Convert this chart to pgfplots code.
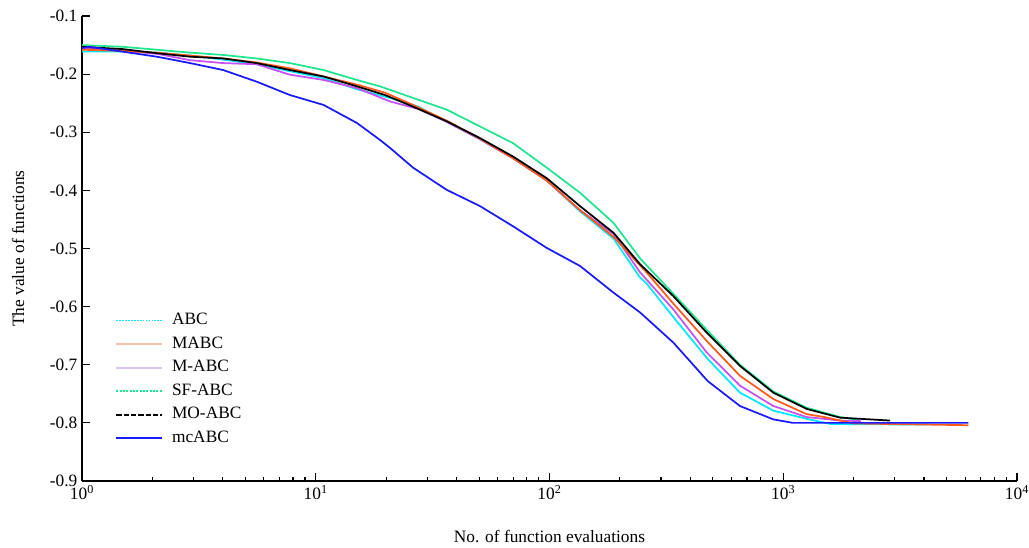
\documentclass[border=0pt]{standalone}
\usepackage{fontspec}
\setmainfont{Liberation Serif}
\usepackage{pgfplots}
\pgfplotsset{compat=1.18}

\definecolor{abccyan}{HTML}{00E8FF}
\definecolor{mabcorange}{HTML}{FF5A1A}
\definecolor{mabcpale}{HTML}{F5C2AA}
\definecolor{mviolet}{HTML}{C850F0}
\definecolor{mvioletpale}{HTML}{DCC4F2}
\definecolor{sfgreen}{HTML}{1EE690}
\definecolor{mcblue}{HTML}{1A1AFF}

\newcommand{\lblfont}{\fontsize{13}{15}\selectfont}

\begin{document}
\begin{tikzpicture}
\path[use as bounding box] (-61.5pt,-49.5pt) rectangle (710.25pt,360.75pt);
\begin{semilogxaxis}[
    at={(0,0)}, anchor=south west,
    scale only axis,
    width=701.25pt, height=348.75pt,
    xmin=1, xmax=10000,
    ymin=-0.9, ymax=-0.1,
    axis x line*=bottom,
    axis y line*=left,
    axis line style={black, line width=1.2pt, -},
    tick align=inside,
    major tick length=6pt,
    minor tick length=3pt,
    tick style={black, line width=0.9pt},
    xtick={1,10,100,1000,10000},
    xticklabels={{10\textsuperscript{0}},{10\textsuperscript{1}},{10\textsuperscript{2}},{10\textsuperscript{3}},{10\textsuperscript{4}}},
    minor xtick={2,3,4,5,6,7,8,9,20,30,40,50,60,70,80,90,200,300,400,500,600,700,800,900,2000,3000,4000,5000,6000,7000,8000,9000},
    ytick={-0.9,-0.8,-0.7,-0.6,-0.5,-0.4,-0.3,-0.2,-0.1},
    yticklabels={-0.9,-0.8,-0.7,-0.6,-0.5,-0.4,-0.3,-0.2,-0.1},
    ticklabel style={font=\lblfont},
    xlabel={No. of function evaluations},
    ylabel={The value of functions},
    label style={font=\lblfont},
    xlabel style={at={(axis description cs:0.5,-0.1204)}, anchor=center},
    ylabel style={at={(axis description cs:-0.0684,0.5)}, anchor=center},
    legend style={at={(axis description cs:0.0353,0.363)}, anchor=north west,
        draw=none, fill=none, inner sep=0pt, font=\lblfont,
        row sep=5.7pt,
        nodes={inner sep=0pt, text height=9pt, text depth=3pt},
        /tikz/every odd column/.append style={column sep=7pt}},
    legend cell align=left,
    legend image code/.code={\draw[#1] (0pt,0pt) -- (34pt,0pt);},
    every axis plot/.append style={line width=1.3pt},
]

% SF-ABC
\addplot[sfgreen, forget plot] coordinates {
(1,-0.150) (1.5,-0.153) (2.09,-0.158) (2.9,-0.163) (4.02,-0.167) (5.59,-0.173)
(7.76,-0.181) (10.8,-0.193) (15,-0.210) (18.8,-0.221) (20.8,-0.227) (26.1,-0.241)
(36.3,-0.261) (50.4,-0.290) (70,-0.319) (97.3,-0.361) (135,-0.404) (188,-0.456)
(244,-0.517) (339,-0.578) (471,-0.640) (653,-0.700) (907,-0.746) (1260,-0.774)
(1750,-0.790) (2100,-0.795)
};
% ABC
\addplot[abccyan, forget plot] coordinates {
(1,-0.161) (1.5,-0.161) (2.09,-0.163) (2.9,-0.168) (4.02,-0.175) (5.59,-0.183)
(7.76,-0.195) (10.8,-0.207) (15,-0.226) (20.8,-0.241) (27.5,-0.256) (36.3,-0.282)
(50.4,-0.312) (70,-0.345) (97.3,-0.383) (135,-0.436) (188,-0.483) (244,-0.550)
(260,-0.560) (350,-0.625) (475,-0.690) (653,-0.748) (907,-0.779) (1260,-0.793)
(1600,-0.802) (4200,-0.803)
};
% M-ABC
\addplot[mviolet, forget plot] coordinates {
(1,-0.155) (1.5,-0.160) (2.09,-0.165) (2.9,-0.176) (4.02,-0.181) (5.59,-0.183)
(7.76,-0.201) (10.8,-0.210) (15,-0.224) (20.8,-0.247) (27.5,-0.260) (36.3,-0.282)
(50.4,-0.312) (70,-0.345) (97.3,-0.383) (135,-0.434) (188,-0.475) (244,-0.541)
(339,-0.605) (471,-0.679) (653,-0.736) (907,-0.771) (1260,-0.790) (1750,-0.796)
(2150,-0.797)
};
% MABC
\addplot[mabcorange, forget plot] coordinates {
(1,-0.158) (1.5,-0.160) (2.09,-0.163) (2.9,-0.168) (4.02,-0.173) (5.59,-0.180)
(7.76,-0.190) (10.8,-0.204) (15,-0.218) (19.8,-0.232) (26.1,-0.253) (36.3,-0.280)
(50.4,-0.311) (70,-0.345) (97.3,-0.383) (135,-0.434) (188,-0.480) (260,-0.541)
(339,-0.595) (478,-0.662) (653,-0.719) (907,-0.759) (1260,-0.785) (1500,-0.790)
(2000,-0.801) (6190,-0.804)
};
% MO-ABC
\addplot[black, forget plot] coordinates {
(1,-0.153) (1.5,-0.157) (2.09,-0.164) (2.9,-0.170) (4.02,-0.173) (5.59,-0.181)
(7.76,-0.193) (10.8,-0.204) (15,-0.221) (19.8,-0.236) (26.1,-0.256) (36.3,-0.281)
(50.4,-0.310) (70,-0.342) (97.3,-0.379) (135,-0.427) (188,-0.473) (244,-0.527)
(339,-0.582) (471,-0.645) (653,-0.702) (907,-0.748) (1260,-0.776) (1750,-0.791)
(2865,-0.796)
};
% mcABC
\addplot[mcblue, forget plot] coordinates {
(1,-0.155) (1.08,-0.153) (2.09,-0.170) (2.9,-0.181) (4.02,-0.193) (5.59,-0.213)
(7.76,-0.236) (10.8,-0.253) (15,-0.284) (18.8,-0.313) (20.8,-0.327) (26.1,-0.361)
(36.3,-0.399) (50.4,-0.427) (70,-0.462) (97.3,-0.499) (135,-0.530) (188,-0.576)
(244,-0.610) (339,-0.662) (475,-0.728) (653,-0.771) (907,-0.794) (1100,-0.800)
(6190,-0.800)
};

\addlegendimage{abccyan, line width=1.3pt, dash pattern=on 1.3pt off 0.9pt}
\addlegendimage{mabcpale, line width=1.6pt}
\addlegendimage{mvioletpale, line width=1.6pt}
\addlegendimage{sfgreen, line width=1.5pt, dash pattern=on 1.5pt off 1pt}
\addlegendimage{black, line width=1.5pt, dash pattern=on 4pt off 1.5pt}
\addlegendimage{mcblue, line width=1.5pt}
\legend{ABC, MABC, M-ABC, SF-ABC, MO-ABC, mcABC}

\end{semilogxaxis}
\end{tikzpicture}
\end{document}
